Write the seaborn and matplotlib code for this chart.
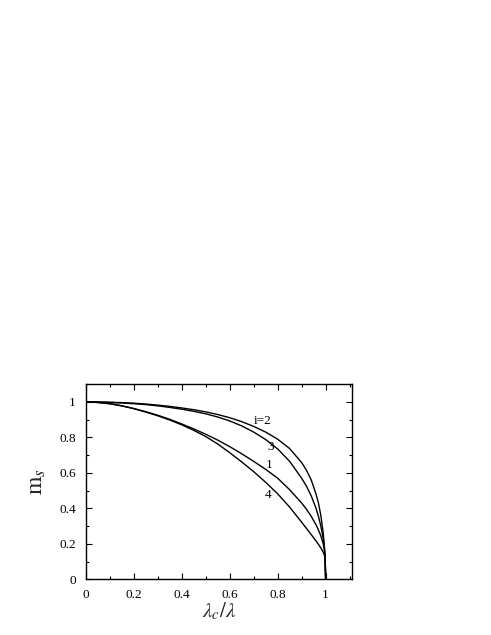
import numpy as np
import pandas as pd
import matplotlib
matplotlib.use("Agg")
import matplotlib.pyplot as plt
import seaborn as sns
from matplotlib.ticker import MultipleLocator, FuncFormatter

# ---- data ----
x_vals = [0, 0.05, 0.1, 0.15, 0.2, 0.25, 0.3, 0.35, 0.4, 0.45, 0.5, 0.55, 0.6, 0.65,
          0.7, 0.75, 0.8, 0.85, 0.9, 0.92, 0.94, 0.96, 0.97, 0.98, 0.99, 0.995, 0.998, 1.0]
m_i2 = [1, 0.9995, 0.998, 0.996, 0.993, 0.988, 0.982, 0.975, 0.966, 0.956, 0.944, 0.929, 0.911, 0.889,
        0.862, 0.83, 0.79, 0.737, 0.658, 0.615, 0.56, 0.48, 0.43, 0.36, 0.26, 0.18, 0.12, 0.0]
m_i3 = [1, 0.999, 0.997, 0.994, 0.99, 0.985, 0.978, 0.969, 0.959, 0.947, 0.933, 0.915, 0.893, 0.865,
        0.83, 0.788, 0.735, 0.665, 0.57, 0.525, 0.47, 0.40, 0.355, 0.30, 0.23, 0.17, 0.12, 0.0]
m_i1 = [1, 0.997, 0.99, 0.978, 0.963, 0.945, 0.925, 0.902, 0.876, 0.848, 0.818, 0.785, 0.748, 0.708,
        0.665, 0.62, 0.57, 0.505, 0.43, 0.395, 0.355, 0.307, 0.278, 0.245, 0.2, 0.165, 0.12, 0.0]
m_i4 = [1, 0.997, 0.99, 0.978, 0.962, 0.943, 0.922, 0.898, 0.871, 0.84, 0.805, 0.763, 0.714, 0.662,
        0.607, 0.547, 0.482, 0.407, 0.322, 0.287, 0.252, 0.216, 0.197, 0.177, 0.152, 0.136, 0.12, 0.0]
series_names = ["i=2", "3", "1", "4"]
label_x = [0.737, 0.772, 0.765, 0.761]
label_y = [0.895, 0.745, 0.644, 0.475]

x_ticks = [0, 0.2, 0.4, 0.6, 0.8, 1]
y_ticks = [0, 0.2, 0.4, 0.6, 0.8, 1]

rows = []
for name, ys in zip(series_names, [m_i2, m_i3, m_i1, m_i4]):
    for xv, yv in zip(x_vals, ys):
        rows.append({"x": xv, "m": yv, "curve": name})
df = pd.DataFrame(rows)

sns.set_style("ticks")
plt.rcParams["font.family"] = ["Liberation Serif", "DejaVu Serif"]
plt.rcParams["mathtext.fontset"] = "stix"

fig = plt.figure(figsize=(4.91, 6.35), dpi=100)
ax = fig.add_axes([0.1745, 0.0877, 0.5415, 0.3073])

sns.lineplot(data=df, x="x", y="m", units="curve", estimator=None,
             color="black", linewidth=1.0, ax=ax, legend=False, sort=False)

for name, lx, ly in zip(series_names, label_x, label_y):
    ax.text(lx, ly, name, fontsize=9.5, ha="center", va="center", color="black")

ax.set_xlim(0, 1.108)
ax.set_ylim(0, 1.1)
ax.set_xticks(x_ticks)
ax.set_yticks(y_ticks)
ax.xaxis.set_minor_locator(MultipleLocator(0.1))
ax.yaxis.set_minor_locator(MultipleLocator(0.1))
fmt = FuncFormatter(lambda v, p: "%g" % v)
ax.xaxis.set_major_formatter(fmt)
ax.yaxis.set_major_formatter(fmt)
ax.tick_params(which="both", direction="in", top=True, right=True, labelsize=9.5,
               colors="black", width=0.8)
ax.tick_params(which="major", length=4, pad=7)
ax.tick_params(which="minor", length=2.5)
for s in ax.spines.values():
    s.set_linewidth(1.0)
    s.set_color("black")

ax.set_xlabel(r"$\lambda_c/\lambda$", fontsize=15, labelpad=0)
ax.set_ylabel(r"$\mathrm{m}_s$", fontsize=17, labelpad=8)

fig.savefig("out.png", dpi=100, facecolor="white")
